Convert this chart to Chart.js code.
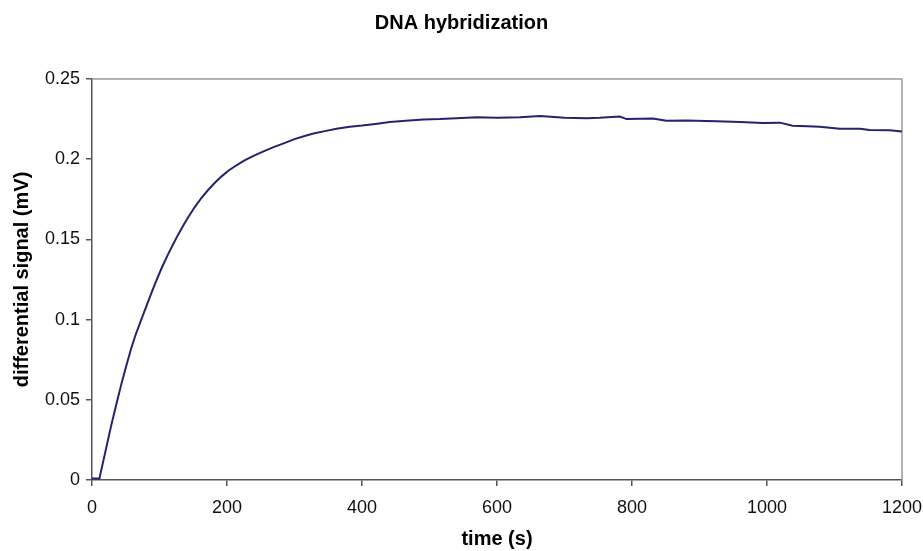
<!DOCTYPE html>
<html>
<head>
<meta charset="utf-8">
<style>
  html, body { margin: 0; padding: 0; background: #fff; }
  #wrap { width: 923px; height: 551px; }
</style>
<script src="https://cdn.jsdelivr.net/npm/chart.js@4.4.1/dist/chart.umd.min.js"></script>
</head>
<body>
<div id="wrap"><canvas id="hyb_chart"></canvas></div>
<script>
// values
const time_s = [0, 5, 11, 20, 29, 36, 43, 50, 58, 65, 73, 83, 93, 103, 113, 120, 127, 135, 142, 152,
  162, 172, 182, 192, 202, 214, 226, 240, 255, 269, 285, 300, 315, 328, 345, 362, 382, 400, 420, 441,
  465, 491, 515, 540, 570, 600, 634, 664, 700, 733, 752, 782, 792, 831, 851, 880, 925, 960, 994, 1019,
  1038, 1060, 1078, 1108, 1138, 1152, 1182, 1200];
const signal_mV = [0.001, 0.001, 0.001, 0.018, 0.035, 0.047, 0.059, 0.070, 0.082, 0.091, 0.100, 0.111,
  0.122, 0.132, 0.141, 0.1468, 0.1525, 0.1585, 0.1635, 0.170, 0.1758, 0.1808, 0.1853, 0.1893, 0.1928, 0.1962,
  0.1992, 0.2022, 0.205, 0.2075, 0.210, 0.2125, 0.2145, 0.216, 0.2175, 0.219, 0.2203, 0.221, 0.222, 0.2232,
  0.224, 0.2248, 0.225, 0.2255, 0.2262, 0.2258, 0.2262, 0.227, 0.2258, 0.2255, 0.2258, 0.2266, 0.2250,
  0.2254, 0.224, 0.2242, 0.2236, 0.2232, 0.2226, 0.2228, 0.2208, 0.2205, 0.2202, 0.219, 0.219, 0.2182,
  0.2181, 0.2172];

const chart_title = "DNA hybridization";
const x_title = "time (s)";
const y_title = "differential signal (mV)";

const points = time_s.map((t, i) => ({ x: t, y: signal_mV[i] }));

Chart.defaults.font.family = "'Liberation Sans', Arial, sans-serif";
Chart.defaults.color = "#111";

// grey frame on top and right like the excel plot area
const frame = {
  id: "frame",
  beforeDatasetsDraw(chart) {
    const a = chart.chartArea;
    const c = chart.ctx;
    c.save();
    c.strokeStyle = "#9a9a9a";
    c.lineWidth = 1.5;
    c.beginPath();
    c.moveTo(a.left, a.top);
    c.lineTo(a.right, a.top);
    c.lineTo(a.right, a.bottom);
    c.stroke();
    c.restore();
  }
};

const ctx = document.getElementById("hyb_chart").getContext("2d");
const my_chart = new Chart(ctx, {
  type: "line",
  data: {
    datasets: [{
      data: points,
      borderColor: "#23236e",
      backgroundColor: "#23236e",
      borderWidth: 2,
      pointRadius: 0,
      tension: 0,
      fill: false
    }]
  },
  options: {
    responsive: true,
    maintainAspectRatio: false,
    animation: false,
    layout: { padding: { left: 10, right: 10, top: 0, bottom: 0 } },
    plugins: {
      legend: { display: false },
      tooltip: { enabled: false },
      title: {
        display: true,
        text: chart_title,
        font: { size: 20, weight: "bold" },
        color: "#000",
        padding: { top: 11, bottom: 44 }
      }
    },
    scales: {
      x: {
        type: "linear",
        min: 0,
        max: 1200,
        ticks: {
          stepSize: 200,
          font: { size: 18 },
          padding: 11,
          maxRotation: 0,
          callback: (v) => String(v)
        },
        grid: { drawOnChartArea: false, tickLength: 6, color: "#555", lineWidth: 1.5 },
        border: { color: "#555", width: 1.5 },
        title: { display: true, text: x_title, font: { size: 20, weight: "bold" }, color: "#000", padding: 0 },
        afterFit: (s) => { s.height = 71; s.paddingRight = 21; s.paddingLeft = 0; }
      },
      y: {
        min: 0,
        max: 0.25,
        ticks: { stepSize: 0.05, font: { size: 18 }, padding: 6, callback: (v) => String(+v.toFixed(2)) },
        grid: { drawOnChartArea: false, tickLength: 6, color: "#555", lineWidth: 1.5 },
        border: { color: "#555", width: 1.5 },
        title: { display: true, text: y_title, font: { size: 20, weight: "bold" }, color: "#000", padding: 0 },
        afterFit: (s) => { s.width = 82; s.paddingTop = 0; s.paddingBottom = 0; }
      }
    }
  },
  plugins: [frame]
});
</script>
</body>
</html>
